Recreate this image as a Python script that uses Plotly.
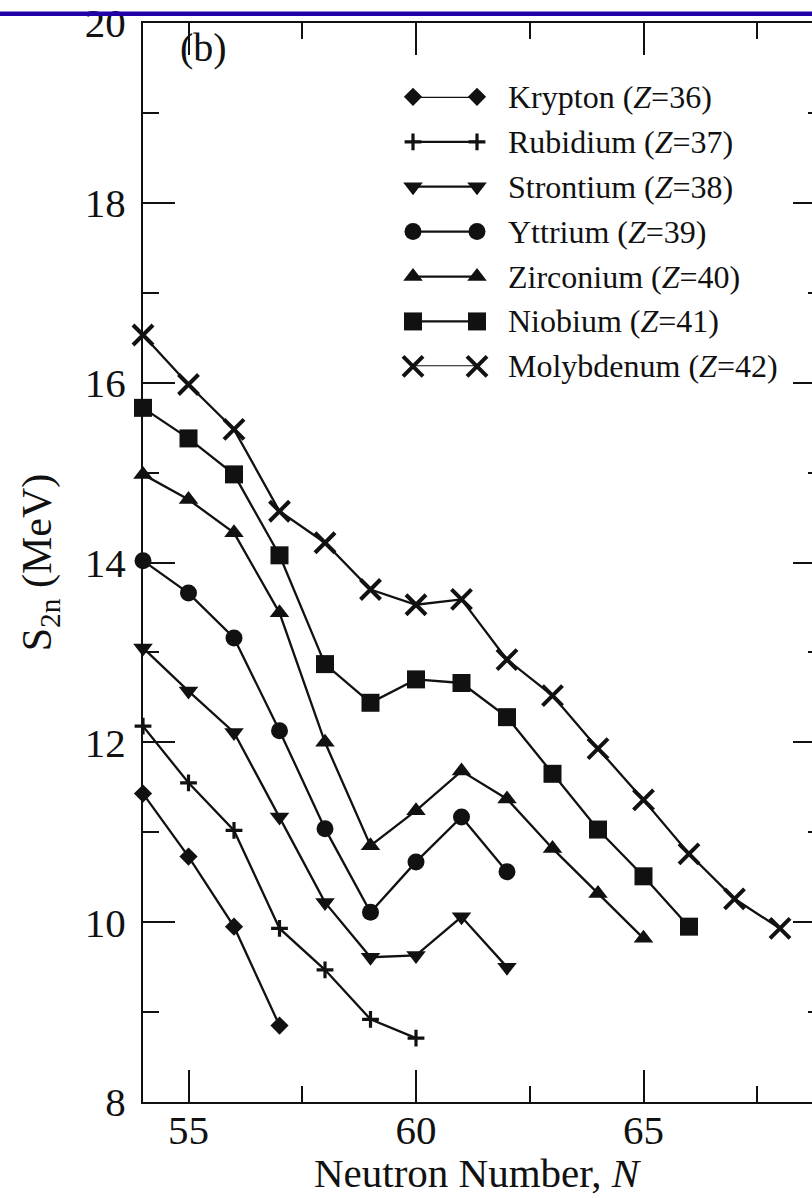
import plotly.graph_objects as go

# ---------------- data ----------------
names = ["Krypton (<i>Z</i>=36)", "Rubidium (<i>Z</i>=37)", "Strontium (<i>Z</i>=38)",
         "Yttrium (<i>Z</i>=39)", "Zirconium (<i>Z</i>=40)", "Niobium (<i>Z</i>=41)",
         "Molybdenum (<i>Z</i>=42)"]

n_kr = [54, 55, 56, 57]
s_kr = [11.43, 10.73, 9.95, 8.85]

n_rb = [54, 55, 56, 57, 58, 59, 60]
s_rb = [12.18, 11.55, 11.02, 9.93, 9.47, 8.92, 8.71]

n_sr = [54, 55, 56, 57, 58, 59, 60, 61, 62]
s_sr = [13.05, 12.57, 12.11, 11.17, 10.22, 9.61, 9.63, 10.06, 9.50]

n_y = [54, 55, 56, 57, 58, 59, 60, 61, 62]
s_y = [14.02, 13.66, 13.16, 12.13, 11.04, 10.11, 10.67, 11.17, 10.56]

n_zr = [54, 55, 56, 57, 58, 59, 60, 61, 62, 63, 64, 65]
s_zr = [14.98, 14.70, 14.33, 13.44, 12.00, 10.85, 11.24, 11.68, 11.37, 10.82, 10.32, 9.82]

n_nb = [54, 55, 56, 57, 58, 59, 60, 61, 62, 63, 64, 65, 66]
s_nb = [15.72, 15.38, 14.98, 14.08, 12.87, 12.44, 12.70, 12.66, 12.28, 11.65, 11.03, 10.51, 9.95]

n_mo = [54, 55, 56, 57, 58, 59, 60, 61, 62, 63, 64, 65, 66, 67, 68]
s_mo = [16.53, 15.98, 15.48, 14.57, 14.22, 13.70, 13.53, 13.59, 12.92, 12.52, 11.93,
        11.36, 10.76, 10.26, 9.93]

x_ticks = [55, 60, 65]
y_ticks = [8, 10, 12, 14, 16, 18, 20]

# ---------------- styles ----------------
FONT = '"Liberation Serif", "Times New Roman", Times, serif'
INK = "#111111"
symbols = [
    dict(symbol="diamond", size=14, line=dict(width=0, color=INK)),
    dict(symbol="cross-thin", size=12, line=dict(width=3.2, color=INK)),
    dict(symbol="triangle-down", size=17, line=dict(width=0, color=INK)),
    dict(symbol="circle", size=17, line=dict(width=0, color=INK)),
    dict(symbol="triangle-up", size=17, line=dict(width=0, color=INK)),
    dict(symbol="square", size=18, line=dict(width=0, color=INK)),
    dict(symbol="x-thin", size=20, line=dict(width=4, color=INK)),
]
series = [(n_kr, s_kr), (n_rb, s_rb), (n_sr, s_sr), (n_y, s_y),
          (n_zr, s_zr), (n_nb, s_nb), (n_mo, s_mo)]

W, H = 812, 1198
L, R, T, B = 143, 0, 21, 96
px_per_n = 45.5
x_max = 54 + (W - L - R) / px_per_n

fig = go.Figure()

for (nn, ss), name, sym in zip(series, names, symbols):
    fig.add_trace(go.Scatter(
        x=nn, y=ss, mode="lines+markers", name=name, showlegend=False,
        line=dict(color=INK, width=2.3),
        marker=dict(color=INK, **sym), cliponaxis=False,
    ))

# invisible trace so the right-hand tick axis is drawn
fig.add_trace(go.Scatter(x=n_mo, y=s_mo, mode="markers", yaxis="y3",
                         marker=dict(opacity=0), hoverinfo="skip", showlegend=False))

# ---------------- hand-built legend (line with a marker at each end) ----------------
plot_h = H - T - B
def py(pix):
    return (H - B - pix) / plot_h
def px(pix):
    return (pix - L) / (W - L - R)

row0, row_gap = 95, 45
for i, (name, sym) in enumerate(zip(names, symbols)):
    fig.add_trace(go.Scatter(
        x=[0, 1], y=[i, i], mode="lines+markers", xaxis="x2", yaxis="y2",
        line=dict(color=INK, width=2.3), marker=dict(color=INK, **sym),
        cliponaxis=False, showlegend=False, hoverinfo="skip",
    ))
    fig.add_annotation(x=px(506), y=py(row0 + row_gap * i), xref="paper", yref="paper",
                       text=name, showarrow=False, xanchor="left", yanchor="middle",
                       font=dict(family=FONT, size=32, color=INK))

fig.add_annotation(x=px(178), y=py(46), xref="paper", yref="paper", text="(b)",
                   showarrow=False, xanchor="left", yanchor="middle",
                   font=dict(family=FONT, size=40, color=INK))

# x-axis title
fig.add_annotation(x=0.5 * (px(143) + px(812)) - px(143) + px(143), y=py(1173),
                   xref="paper", yref="paper", text="Neutron Number, <i>N</i>",
                   showarrow=False, xanchor="center", yanchor="middle",
                   font=dict(family=FONT, size=41, color=INK))

# blue rule across the top
fig.add_shape(type="line", xref="paper", yref="paper", x0=-0.3, x1=1.1,
              y0=py(11.8), y1=py(11.8), line=dict(color="#2200aa", width=4.5))

axis_common = dict(showgrid=False, zeroline=False, color=INK, ticklabeloverflow="allow",
                   tickfont=dict(family=FONT, size=41, color=INK))

fig.update_layout(
    width=W, height=H, margin=dict(l=L, r=R, t=T, b=B),
    paper_bgcolor="white", plot_bgcolor="white",
    font=dict(family=FONT, color=INK),
    xaxis=dict(range=[54, x_max], tickvals=x_ticks, ticks="inside", ticklen=32,
               tickwidth=2, showline=True, linewidth=2, linecolor=INK, mirror="ticks",
               ticklabelstandoff=-9,
               minor=dict(dtick=2.5, tick0=55, ticks="inside", ticklen=16, tickwidth=2,
                          tickcolor=INK),
               **axis_common),
    yaxis=dict(range=[8, 20], tickvals=y_ticks, ticks="inside", ticklen=32, tickwidth=2,
               showline=True, linewidth=2, linecolor=INK, mirror=False,
               ticklabelstandoff=7,
               minor=dict(dtick=1, tick0=8, ticks="inside", ticklen=16, tickwidth=2,
                          tickcolor=INK),
               title=dict(text="S<sub>2n</sub> (MeV)", font=dict(family=FONT, size=42),
                          standoff=20),
               **axis_common),
    yaxis3=dict(range=[8, 20], overlaying="y", side="right", anchor="x",
                tickvals=y_ticks, ticks="inside", ticklen=19, tickwidth=2, tickcolor=INK,
                showline=False, showgrid=False, zeroline=False, showticklabels=False,
                minor=dict(dtick=1, tick0=8, ticks="inside", ticklen=4, tickwidth=2,
                           tickcolor=INK)),
    xaxis2=dict(domain=[px(413), px(477)], range=[0, 1], anchor="y2", visible=False),
    yaxis2=dict(domain=[py(row0 + row_gap * 6), py(row0)], range=[6, 0], anchor="x2",
                visible=False),
    showlegend=False,
)

fig.write_html("out.html")
